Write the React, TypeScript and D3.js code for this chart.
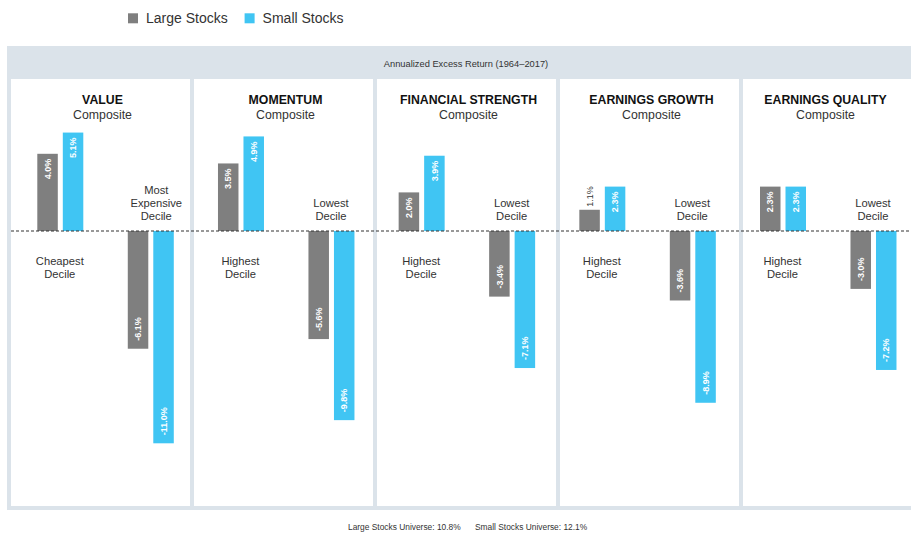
import * as d3 from 'd3';

// factor panels
const factors = ['VALUE', 'MOMENTUM', 'FINANCIAL STRENGTH', 'EARNINGS GROWTH', 'EARNINGS QUALITY'];
const topLabels = ['Cheapest Decile', 'Highest Decile', 'Highest Decile', 'Highest Decile', 'Highest Decile'];
const bottomLabels = ['Most Expensive Decile', 'Lowest Decile', 'Lowest Decile', 'Lowest Decile', 'Lowest Decile'];

// annualized excess return (%)
const largeTop = [4.0, 3.5, 2.0, 1.1, 2.3];
const smallTop = [5.1, 4.9, 3.9, 2.3, 2.3];
const largeBottom = [-6.1, -5.6, -3.4, -3.6, -3.0];
const smallBottom = [-11.0, -9.8, -7.1, -8.9, -7.2];

const seriesNames = ['Large Stocks', 'Small Stocks'];
const headerText = 'Annualized Excess Return (1964–2017)';
const footNotes = ['Large Stocks Universe: 10.8%', 'Small Stocks Universe: 12.1%'];

const width = 911;
const height = 533;
const font = '"Liberation Sans", Arial, sans-serif';
const frameColor = '#dbe3ea';
const textColor = '#333';
const color = d3.scaleOrdinal<string, string>().domain(seriesNames).range(['#7f7f7f', '#40c5f3']);

export default function App() {
  const y = d3.scaleLinear().domain([-12, 6]).range([462.6, 115.2]);

  // panels (white boxes)
  const panelX = d3.scaleLinear().domain([0, 4]).range([11, 743]);
  const panelW = 179;
  // bar groups origin per factor
  const groupX = d3.scaleLinear().domain([0, 4]).range([37.3, 760]);
  const side = d3.scaleBand().domain(['top', 'bottom']).range([0, 136]).paddingInner(0.497);
  const inner = d3.scaleBand().domain(seriesNames).range([0, 46]).paddingInner(0.196);
  const bw = inner.bandwidth();

  const bars: { f: number; s: string; side: string; v: number }[] = [];
  factors.forEach((_, i) => {
    bars.push({ f: i, s: seriesNames[0], side: 'top', v: largeTop[i] });
    bars.push({ f: i, s: seriesNames[1], side: 'top', v: smallTop[i] });
    bars.push({ f: i, s: seriesNames[0], side: 'bottom', v: largeBottom[i] });
    bars.push({ f: i, s: seriesNames[1], side: 'bottom', v: smallBottom[i] });
  });
  const barX = (d: { f: number; s: string; side: string }) => groupX(d.f) + side(d.side)! + inner(d.s)!;

  const titleCenter = (i: number) => (i === 4 ? panelX(i) + 82.5 : panelX(i) + panelW / 2 + 2);

  return (
    <svg width={width} height={height} style={{ position: 'absolute', left: 0, top: 0, background: '#fff' }} fontFamily={font}>
      {/* legend */}
      {seriesNames.map((s, i) => (
        <g key={s} transform={`translate(${128 + i * 116.6},13.3)`}>
          <rect width={10} height={10} fill={color(s)} />
          <text x={18} y={10} fontSize={14} fill={textColor}>{s}</text>
        </g>
      ))}

      {/* frame + header */}
      <rect x={7} y={46} width={width + 10} height={464} fill={frameColor} />
      <text x={466} y={67} fontSize={9.3} fill={textColor} textAnchor="middle">{headerText}</text>
      {factors.map((f, i) => (
        <rect key={f} x={panelX(i)} y={79} width={i === 4 ? width : panelW} height={427} fill="#fff" />
      ))}

      {/* titles */}
      {factors.map((f, i) => (
        <g key={f} textAnchor="middle" fill="#111">
          <text x={titleCenter(i)} y={104} fontSize={12.3} fontWeight="bold">{f}</text>
          <text x={titleCenter(i)} y={118.5} fontSize={12.3} fill={textColor}>Composite</text>
        </g>
      ))}

      {/* bars */}
      {bars.map((d, i) => {
        const y0 = y(Math.max(0, d.v));
        const h = Math.abs(y(d.v) - y(0));
        const cx = barX(d) + bw / 2;
        const label = `${d.v.toFixed(1)}%`;
        let lt;
        if (d.v >= 0 && h < 30) {
          lt = <text transform={`translate(${cx},${y0 - 3}) rotate(-90)`} dy="0.35em" fontSize={9} fill={textColor}>{label}</text>;
        } else if (d.v >= 0) {
          lt = <text transform={`translate(${cx},${y0 + 5}) rotate(-90)`} dy="0.35em" textAnchor="end" fontSize={9} fill="#fff" fontWeight="bold">{label}</text>;
        } else {
          lt = <text transform={`translate(${cx},${y0 + h - 8}) rotate(-90)`} dy="0.35em" fontSize={9} fill="#fff" fontWeight="bold">{label}</text>;
        }
        return (
          <g key={i}>
            <rect x={barX(d)} y={y0} width={bw} height={h} fill={color(d.s)} />
            {lt}
          </g>
        );
      })}

      {/* zero line */}
      <line x1={11} x2={width} y1={y(0)} y2={y(0)} stroke="#333" strokeWidth={1.2} strokeDasharray="3,2" />

      {/* decile labels */}
      {factors.map((f, i) => {
        const topC = groupX(i) + side('top')! + 22.5;
        const botC = groupX(i) + side('bottom')! + 22.5 + (i === 0 ? 6 : 0);
        const tl = topLabels[i].split(' ');
        const bl = bottomLabels[i].split(' ');
        return (
          <g key={f} fontSize={11.2} fill={textColor} textAnchor="middle">
            {tl.map((w, j) => (
              <text key={j} x={topC} y={265 + j * 13}>{w}</text>
            ))}
            {bl.map((w, j) => (
              <text key={j} x={botC} y={220 - (bl.length - 1 - j) * 13}>{w}</text>
            ))}
          </g>
        );
      })}

      {/* foot notes */}
      <text x={348} y={530} fontSize={8.4} fill={textColor}>{footNotes[0]}</text>
      <text x={475} y={530} fontSize={8.4} fill={textColor}>{footNotes[1]}</text>
    </svg>
  );
}
